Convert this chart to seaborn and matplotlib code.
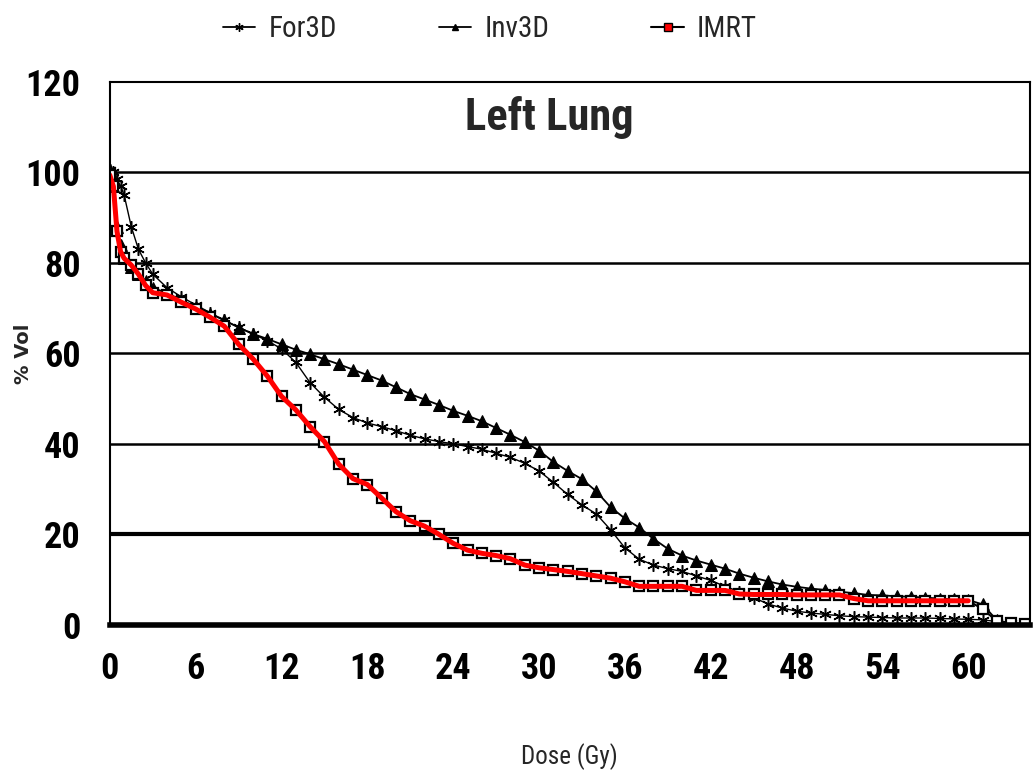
import numpy as np
import pandas as pd
import matplotlib
matplotlib.use("Agg")
import matplotlib.pyplot as plt
import seaborn as sns
from matplotlib import font_manager
from matplotlib.font_manager import FontProperties
from matplotlib.lines import Line2D

# ---- data -------------------------------------------------------------
dose = [0, 0.25, 0.5, 0.75, 1, 1.5, 2, 2.5, 3, 4, 5, 6, 7, 8, 9, 10, 11, 12,
        13, 14, 15, 16, 17, 18, 19, 20, 21, 22, 23, 24, 25, 26, 27, 28, 29,
        30, 31, 32, 33, 34, 35, 36, 37, 38, 39, 40, 41, 42, 43, 44, 45, 46,
        47, 48, 49, 50, 51, 52, 53, 54, 55, 56, 57, 58, 59, 60, 61, 62, 63, 64]

for3d = [100.5, 100, 98.5, 97, 95, 88, 83, 80, 77.5, 74.5, 72.5, 70.7, 69,
         67.3, 65.8, 64.3, 62.8, 61, 58, 53.5, 50.3, 47.6, 45.8, 44.6, 43.8,
         42.9, 41.9, 41.1, 40.5, 40, 39.4, 38.8, 37.9, 37, 35.7, 34, 31.5,
         28.8, 26.5, 24.5, 21, 17, 14.5, 13.2, 12.4, 11.8, 10.8, 9.8, 8.5,
         7.3, 6, 4.6, 3.7, 3, 2.6, 2.3, 2, 1.8, 1.7, 1.6, 1.5, 1.5, 1.5, 1.4,
         1.3, 1.2, 1.1, 0.7, 0.4, 0.2]

inv3d = [100.5, 97, 88, 84, 81, 79, 77.5, 76, 74.5, 73.3, 71.8, 70.3, 68.8,
         67.3, 65.7, 64.3, 63.2, 62, 60.8, 59.8, 58.7, 57.6, 56.4, 55.2, 54,
         52.5, 51, 49.8, 48.6, 47.3, 46.2, 45, 43.5, 42, 40.4, 38.5, 36, 34,
         32.2, 29.5, 26, 23.5, 21.5, 19, 16.8, 15.3, 14.2, 13.3, 12.4, 11.3,
         10.4, 9.6, 8.9, 8.4, 8, 7.7, 7.3, 7, 6.6, 6.5, 6.3, 6.2, 6, 5.8, 5.6,
         5.5, 4.5, 1, 0.3, 0.2]

imrt = [99.4, 96.9, 87, 82.5, 81, 79.5, 77.5, 75, 73.4, 72.9, 71.3, 69.8, 68,
        66, 62, 58.8, 55, 50.5, 47.5, 43.8, 40.5, 35.5, 32.3, 31, 28, 25, 23,
        21.8, 20, 18, 16.5, 15.8, 15.3, 14.6, 13.2, 12.6, 12.2, 11.8, 11.3,
        10.8, 10.3, 9.5, 8.5, 8.5, 8.5, 8.5, 7.6, 7.6, 7.6, 6.8, 6.7, 6.7,
        6.7, 6.6, 6.6, 6.6, 6.6, 5.8, 5.3, 5.3, 5.3, 5.3, 5.3, 5.3, 5.3, 5.3,
        3.5, 0.8, 0.3, 0.2]

series_names = ["For3D", "Inv3D", "IMRT"]
x_tick_labels = [0, 6, 12, 18, 24, 30, 36, 42, 48, 54, 60]
y_ticks = [0, 20, 40, 60, 80, 100, 120]
red_end_dose = 60

df = pd.DataFrame({
    "Dose": dose * 3,
    "Vol": for3d + inv3d + imrt,
    "Plan": sum([[n] * len(dose) for n in series_names], []),
})

# ---- fonts: prefer a narrow/condensed sans face -------------------------
sns.set_theme(style="white")


def pick_font(bold):
    ttf = font_manager.fontManager.ttflist
    def ok_weight(f):
        w = f.weight if isinstance(f.weight, int) else \
            font_manager.weight_dict.get(f.weight, 400)
        return (w >= 600) if bold else (w < 600)
    def is_italic(f):
        return f.style != "normal"
    prefs = [
        lambda f: "Narrow" in f.name and "Liberation" in f.name,
        lambda f: "Condensed" in f.name and "Roboto" in f.name,
        lambda f: "Condensed" in f.name,
        lambda f: f.name == "DejaVu Sans" and "condensed" in str(f.stretch),
        lambda f: "Condensed" in f.fname or "Narrow" in f.fname,
    ]
    for p in prefs:
        hits = [f for f in ttf if p(f) and ok_weight(f) and not is_italic(f)]
        if hits:
            return hits[0].fname
    return None


fb = pick_font(True)
fr = pick_font(False)


def fp(size, bold=True):
    path = fb if bold else fr
    if path is None:
        return FontProperties(family="DejaVu Sans", size=size,
                              weight="bold" if bold else "normal")
    return FontProperties(fname=path, size=size)


plt.rcParams["font.family"] = ["DejaVu Sans"]

fig = plt.figure(figsize=(10.36, 7.80), dpi=100)
ax = fig.add_axes([0.106, 0.199, 0.888, 0.696])

star = (6, 2, 0)
sns.lineplot(data=df[df.Plan == "Inv3D"], x="Dose", y="Vol", ax=ax,
             color="black", lw=1.3, marker="^", markersize=8,
             markeredgecolor="black", markerfacecolor="black",
             legend=False)
sns.lineplot(data=df[df.Plan == "For3D"], x="Dose", y="Vol", ax=ax,
             color="black", lw=1.0, marker=star, markersize=9,
             markeredgecolor="black", markeredgewidth=1.1, legend=False)
sns.lineplot(data=df[df.Plan == "IMRT"], x="Dose", y="Vol", ax=ax,
             color="black", lw=1.5, marker="s", markersize=7,
             markerfacecolor="white", markeredgecolor="black",
             markeredgewidth=1.6, legend=False)
red = df[(df.Plan == "IMRT") & (df.Dose <= red_end_dose)]
sns.lineplot(data=red, x="Dose", y="Vol", ax=ax, color="#ff0000", lw=3.6,
             legend=False)

# ---- axes -------------------------------------------------------------
xt = np.arange(0, 64, 3)
ax.set_xlim(0, 64.3)
ax.set_ylim(0, 120)
ax.set_xticks(xt)
ax.set_xticklabels([str(int(v)) if int(v) in x_tick_labels else "" for v in xt],
                   fontproperties=fp(26))
ax.set_yticks(y_ticks)
ax.set_yticklabels([str(v) for v in y_ticks], fontproperties=fp(26))
ax.tick_params(axis="x", direction="out", length=14, width=1.5, pad=5,
               colors="black")
ax.tick_params(axis="y", direction="out", length=9, width=1.5, pad=12,
               colors="black")
ax.yaxis.grid(True, color="black", lw=1.8)
ax.xaxis.grid(False)
for val, gl in zip(y_ticks, ax.yaxis.get_gridlines()):
    if val == 20:
        gl.set_linewidth(3)
    if val in (0, 120):
        gl.set_visible(False)
for side in ["left", "right", "top"]:
    ax.spines[side].set_color("black")
    ax.spines[side].set_linewidth(1.5)
ax.spines["bottom"].set_color("black")
ax.spines["bottom"].set_linewidth(4)

ax.set_xlabel("Dose (Gy)", fontproperties=fp(18, bold=False), labelpad=40)
ax.set_ylabel("% Vol", fontproperties=FontProperties(family="DejaVu Sans",
                                                       weight="bold", size=14))
ax.yaxis.set_label_coords(-0.083, 0.5)
ax.text(0.478, 0.935, "Left Lung", transform=ax.transAxes, ha="center",
        va="center", fontproperties=fp(32))

# ---- legend -----------------------------------------------------------
handles = [
    Line2D([], [], color="black", lw=1.3, marker=star, markersize=6),
    Line2D([], [], color="black", lw=1.3, marker="^", markersize=5),
    Line2D([], [], color="black", lw=1.5, marker="s", markersize=6,
           markerfacecolor="#ff0000", markeredgecolor="black"),
]
fig.legend(handles, series_names, loc="center", bbox_to_anchor=(0.473, 0.963),
           ncol=3, frameon=False, prop=fp(21, bold=False), handlelength=1.1,
           handletextpad=0.45, columnspacing=3.5)

fig.savefig("out.png", dpi=100, facecolor="white")
